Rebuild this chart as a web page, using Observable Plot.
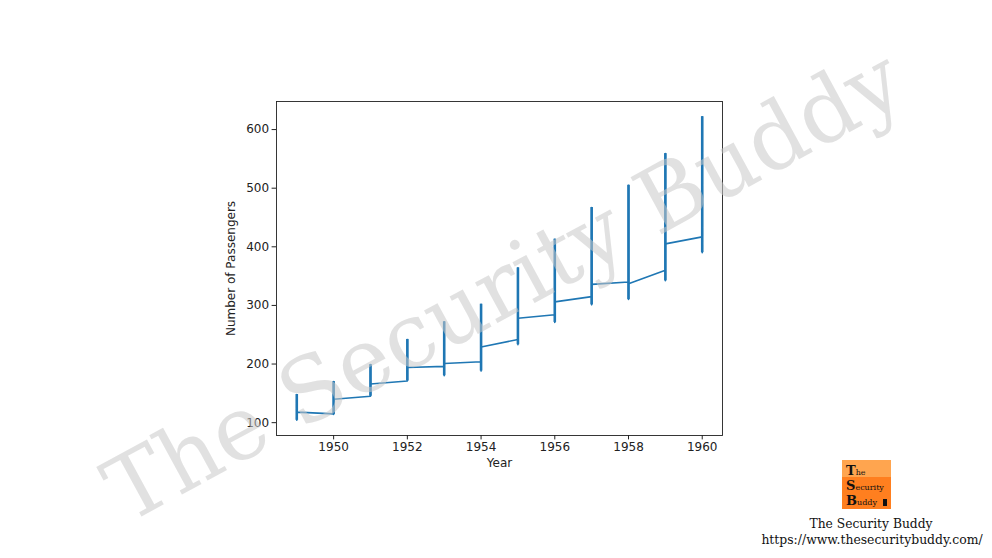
<!DOCTYPE html>
<html>
<head>
<meta charset="utf-8">
<script src="https://cdn.jsdelivr.net/npm/d3@7"></script>
<script src="https://cdn.jsdelivr.net/npm/@observablehq/plot@0.6"></script>
<style>
  html, body { margin: 0; padding: 0; background: #fff; }
  #wrap { position: relative; width: 992px; height: 558px; overflow: hidden; }
  #chart { position: absolute; left: 0; top: 0; }
  #overlay { position: absolute; left: 0; top: 0; pointer-events: none; }
</style>
</head>
<body>
<div id="wrap">
  <div id="chart"></div>
  <svg id="overlay" width="992" height="558"></svg>
</div>
<script>
// AirPassengers, monthly totals (thousands), plotted against integer year
const years = [1949, 1950, 1951, 1952, 1953, 1954, 1955, 1956, 1957, 1958, 1959, 1960];
const p1949 = [112, 118, 132, 129, 121, 135, 148, 148, 136, 119, 104, 118];
const p1950 = [115, 126, 141, 135, 125, 149, 170, 170, 158, 133, 114, 140];
const p1951 = [145, 150, 178, 163, 172, 178, 199, 199, 184, 162, 146, 166];
const p1952 = [171, 180, 193, 181, 183, 218, 230, 242, 209, 191, 172, 194];
const p1953 = [196, 196, 236, 235, 229, 243, 264, 272, 237, 211, 180, 201];
const p1954 = [204, 188, 235, 227, 234, 264, 302, 293, 259, 229, 203, 229];
const p1955 = [242, 233, 267, 269, 270, 315, 364, 347, 312, 274, 237, 278];
const p1956 = [284, 277, 317, 313, 318, 374, 413, 405, 355, 306, 271, 306];
const p1957 = [315, 301, 356, 348, 355, 422, 465, 467, 404, 347, 305, 336];
const p1958 = [340, 318, 362, 348, 363, 435, 491, 505, 404, 359, 310, 337];
const p1959 = [360, 342, 406, 396, 420, 472, 548, 559, 463, 407, 362, 405];
const p1960 = [417, 391, 419, 461, 472, 535, 622, 606, 508, 461, 390, 432];
const passengersByYear = [p1949, p1950, p1951, p1952, p1953, p1954, p1955, p1956, p1957, p1958, p1959, p1960];

const xTicks = [1950, 1952, 1954, 1956, 1958, 1960];
const yTicks = [100, 200, 300, 400, 500, 600];

const rows = [];
years.forEach((y, i) => passengersByYear[i].forEach(v => rows.push({year: y, passengers: v})));
// per-year extent: the line retraces itself vertically within each year
const spans = years.map((y, i) => ({year: y, lo: d3.min(passengersByYear[i]), hi: d3.max(passengersByYear[i])}));

const allVals = rows.map(d => d.passengers);
const yMin = d3.min(allVals), yMax = d3.max(allVals);
const yPad = (yMax - yMin) * 0.05;
const xPad = (d3.max(years) - d3.min(years)) * 0.05;

const chart = Plot.plot({
  width: 992,
  height: 558,
  marginLeft: 276,
  marginRight: 270,
  marginTop: 101,
  marginBottom: 123,
  style: {fontFamily: "DejaVu Sans", fontSize: "12px", color: "#222", background: "transparent"},
  x: {domain: [d3.min(years) - xPad, d3.max(years) + xPad]},
  y: {domain: [yMin - yPad, yMax + yPad]},
  marks: [
    Plot.axisX({ticks: xTicks, tickFormat: d3.format("d"), tickSize: 4.4, tickPadding: 3, label: null, stroke: "#222"}),
    Plot.axisY({ticks: yTicks, tickSize: 4.4, tickPadding: 3, label: null, stroke: "#222"}),
    Plot.ruleX(spans, {x: "year", y1: "lo", y2: "hi", stroke: "#1f77b4", strokeWidth: 2.6}),
    Plot.line(rows, {x: "year", y: "passengers", stroke: "#1f77b4", strokeWidth: 1.6, curve: "linear"}),
    Plot.frame({stroke: "#222", strokeWidth: 0.9}),
    Plot.text(["Year"], {frameAnchor: "bottom", dy: 31, fontSize: 12, fill: "#222"}),
    Plot.text(["Number of Passengers"], {frameAnchor: "left", dx: -45, rotate: -90, textAnchor: "middle", fontSize: 12, fill: "#222"})
  ]
});
document.getElementById("chart").appendChild(chart);

// watermark + logo overlay
const ov = d3.select("#overlay");
ov.append("text")
  .attr("x", 0).attr("y", 0)
  .attr("transform", "translate(518,312) rotate(-28.5)")
  .attr("text-anchor", "middle")
  .attr("font-family", "DejaVu Serif")
  .attr("font-size", 89)
  .attr("fill", "#c8c8c8")
  .attr("fill-opacity", 0.55)
  .text("The Security Buddy");

const logo = ov.append("g").attr("transform", "translate(842,460)");
logo.append("rect").attr("width", 49).attr("height", 49).attr("fill", "#ff7f1f");
logo.append("rect").attr("width", 49).attr("height", 17).attr("fill", "#ffa54f");
const lt = [["T", "he", 15], ["S", "ecurity", 30], ["B", "uddy", 45]];
lt.forEach(([big, small, y]) => {
  const t = logo.append("text").attr("x", 4).attr("y", y).attr("font-family", "DejaVu Serif").attr("fill", "#111");
  t.append("tspan").attr("font-size", 13).attr("font-weight", "bold").text(big);
  t.append("tspan").attr("font-size", 8).text(small);
});
logo.append("rect").attr("x", 41).attr("y", 39).attr("width", 4).attr("height", 7).attr("fill", "#111");

ov.append("text").attr("x", 871).attr("y", 528).attr("text-anchor", "middle")
  .attr("font-family", "DejaVu Serif").attr("font-size", 12.3).attr("fill", "#111")
  .text("The Security Buddy");
ov.append("text").attr("x", 872).attr("y", 544).attr("text-anchor", "middle")
  .attr("font-family", "DejaVu Serif").attr("font-size", 12.4).attr("fill", "#111")
  .text("https://www.thesecuritybuddy.com/");
</script>
</body>
</html>
